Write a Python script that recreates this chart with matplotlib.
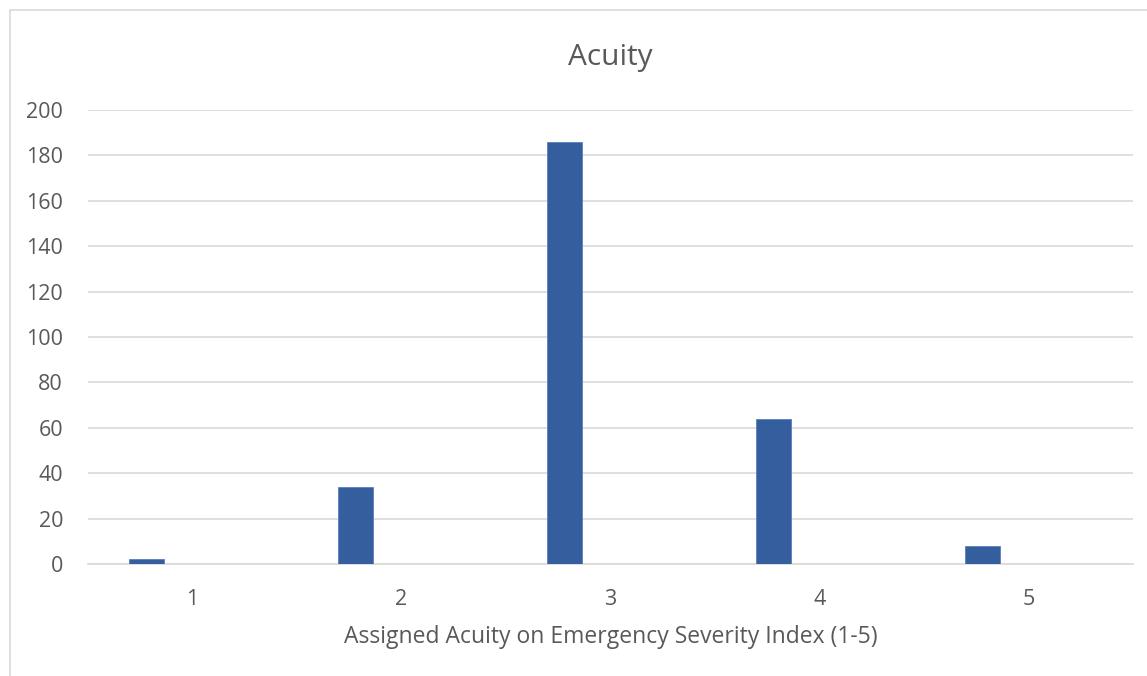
import matplotlib
matplotlib.use("Agg")
from matplotlib import pyplot as plt
from matplotlib.patches import Rectangle
import numpy as np

# data
categories = ["1", "2", "3", "4", "5"]
counts = [2, 34, 186, 64, 8]
yticks = [0, 20, 40, 60, 80, 100, 120, 140, 160, 180, 200]

plt.rcParams['font.family'] = ['Open Sans', 'DejaVu Sans']

W, H = 1147, 676
fig = plt.figure(figsize=(W / 100, H / 100), dpi=100)
ax = fig.add_axes([88 / W, 112 / H, (1133 - 88) / W, (564 - 110) / H])

x = np.arange(1, len(categories) + 1)
ax.bar(x - 0.22, counts, width=0.172, color="#355E9F", edgecolor="#5B7FB8", linewidth=0.6, zorder=3)

ax.set_xlim(0.5, 5.5)
ax.set_ylim(0, 200)
ax.set_yticks(yticks)
ax.set_xticks(x)
ax.set_xticklabels(categories)
ax.grid(axis="y", color="#D9D9D9", linewidth=1.2, zorder=0)
for s in ["top", "right", "left"]:
    ax.spines[s].set_visible(False)
ax.spines["bottom"].set_color("#D9D9D9")
ax.spines["bottom"].set_linewidth(1.2)
ax.tick_params(axis="both", length=0, labelsize=15.5, colors="#595959")
ax.tick_params(axis="x", pad=18)
ax.tick_params(axis="y", pad=18)
ax.set_xlabel("Assigned Acuity on Emergency Severity Index (1-5)", fontsize=16.5, color="#595959", labelpad=11)
fig.text((88 + 1133) / 2 / W, 1 - 58 / H, "Acuity", fontsize=21.5, color="#595959", ha="center", va="center")

# chart frame
fig.patches.append(Rectangle((10 / W, -0.1), 1.2, 1 - 10 / H + 0.1, transform=fig.transFigure,
                             fill=False, edgecolor="#D9D9D9", linewidth=1.2))

fig.savefig("out.png", dpi=100)
